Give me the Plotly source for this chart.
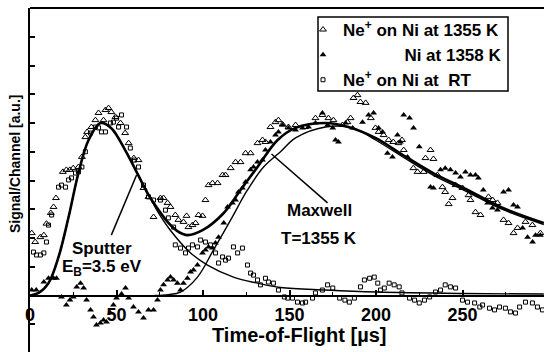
import plotly.graph_objects as go

# ---------------- data ----------------
# Ne+ on Ni at 1355 K (open triangles)
hot_t = [1, 3, 6, 8, 9.5, 12, 13.6, 15, 19, 21, 23, 25, 28, 30, 32, 33, 35.5, 37.8, 39.6, 42.5,
         43.6, 45.4, 47, 49.4, 52.3, 55, 57, 60, 62.7, 65.6, 68.5, 71.4, 75.4, 77.2, 79.5, 81.2,
         84, 85.8, 88.7, 90.5, 91.6, 93.9, 95.7, 97.4, 99.7, 101.4, 103.2, 105.5, 108.4, 111.3,
         113, 116, 118.8, 121.7, 124.6, 127.5, 131.5, 134.4, 136.1, 139, 141.9, 143.6, 146,
         149.4, 153.5, 159, 165, 169, 172.5, 175.4, 180.6, 183.5, 185.3, 187, 189.3, 191, 194,
         197, 199.7, 201.5, 204.4, 207.3, 210, 213, 215, 216, 221.6, 224, 227.5, 228.6, 231.5,
         233.2, 235.5, 238.4, 240, 242, 244.2, 246, 250, 253.5, 254.6, 257.5, 260.4, 265, 267.4,
         270.2, 273.7, 276.6, 279.5, 281.8, 286.4, 290.4, 295]
hot_y = [2.17, 1.86, 2.03, 2.10, 2.50, 2.87, 3.08, 3.39, 4.30, 4.37, 4.37, 4.43, 4.47, 4.82, 5.51,
         5.69, 5.86, 6.10, 6.35, 6.10, 6.45, 6.52, 6.38, 6.21, 6.00, 5.65, 5.30, 4.78, 4.71, 3.74,
         3.43, 2.73, 3.39, 3.39, 3.22, 3.08, 2.80, 2.63, 2.56, 2.77, 2.38, 2.45, 2.52, 2.80, 2.77,
         3.32, 3.84, 3.91, 3.91, 4.19, 4.19, 4.43, 4.64, 4.64, 4.95, 4.95, 5.30, 5.41, 5.34, 5.86,
         6.03, 6.10, 5.95, 5.86, 5.93, 5.86, 6.17, 6.28, 6.17, 6.10, 5.93, 6.03, 6.17, 6.87, 6.97,
         6.73, 6.70, 6.17, 5.83, 5.69, 5.58, 5.41, 5.34, 5.30, 5.41, 5.06, 4.43, 4.30, 4.30, 4.78,
         5.06, 4.75, 4.19, 3.77, 3.60, 3.18, 3.39, 3.84, 3.74, 3.49, 3.32, 2.90, 2.80, 3.43, 3.32,
         3.22, 2.63, 2.52, 2.17, 2.35, 2.56, 2.45, 2.17]

# Ni at 1358 K (filled triangles)
ni_t = [1, 3.6, 8, 10.7, 13.6, 15.3, 18.2, 21, 23.1, 25, 27, 29.2, 31, 32.7, 35, 36.7, 38.4, 40.7,
        42.5, 44.2, 46.5, 48.2, 50, 52.9, 55.2, 57, 59.8, 62.7, 65.6, 68.5, 71.4, 73.7, 75.4,
        77.2, 79.5, 81.2, 83, 85.2, 87, 88.7, 91, 92.8, 94.5, 96.8, 99.7, 101.4, 103.2, 105.5,
        107.2, 109, 112, 114.2, 117, 118.8, 120.5, 122.8, 124.6, 127.5, 129.2, 131.5, 134.4,
        136.1, 139, 141.9, 143.6, 146, 149.4, 153.5, 157.5, 161, 165, 169, 172, 175, 176.6,
        178.3, 182.4, 186.5, 192.2, 195.7, 198.6, 201.5, 203.8, 206.6, 209.5, 212.4, 214.1, 216,
        218.2, 219.4, 221.7, 225, 231.5, 233.2, 237.3, 240, 243, 246, 248.8, 251.7, 254.6,
        257.5, 259.2, 262, 264.5, 267.3, 270.2, 273.7, 276.6, 279.5, 281.8, 284.7, 287.6, 290.5,
        292.2, 295]
ni_y = [0.19, 0.19, 0.47, 0.60, 0.60, 0.60, -0.05, -0.33, -0.16, -0.05, 0.30, 0.43, 0.26, -0.16,
        -0.50, -0.75, -1.03, -0.96, -0.85, -0.92, -0.61, -0.33, -0.09, 0.05, 0.26, -0.09, -0.40,
        -0.57, -0.78, -0.50, -0.50, -0.16, 0.19, 0.37, 0.54, 0.64, 0.54, 0.43, 0.19, 0.43, 0.60,
        0.82, 0.89, 1.06, 1.48, 1.58, 1.69, 1.65, 1.83, 2.03, 2.52, 3.08, 3.22, 3.32, 3.60, 3.74,
        3.95, 4.37, 4.47, 4.64, 4.71, 5.06, 5.34, 5.58, 5.69, 5.93, 5.83, 5.76, 5.83, 5.86, 6.00,
        6.35, 5.93, 5.83, 5.41, 5.34, 6.00, 5.83, 6.03, 6.28, 6.35, 5.83, 5.69, 4.95, 4.82, 5.58,
        5.34, 6.28, 4.82, 6.17, 5.83, 5.17, 3.77, 3.74, 4.37, 4.43, 4.37, 4.26, 4.12, 4.30, 4.19,
        4.19, 4.09, 3.67, 3.22, 3.04, 2.97, 3.60, 3.67, 3.15, 3.08, 2.35, 2.03, 1.86, 2.10, 2.10]

# Ne+ on Ni at RT (open squares)
rt_t = [2, 3.8, 6, 8, 9.5, 10.7, 12.5, 16.5, 18.2, 20.5, 22.3, 24, 26.3, 28, 30, 32, 35, 37.8,
        39.6, 41.3, 43.6, 46.5, 48.2, 50, 51.2, 52.9, 55.8, 58, 60.4, 62.7, 65.6, 68.5, 71.4,
        75.4, 78.3, 80, 83, 84, 87, 89.9, 91.6, 93.9, 96.8, 98.6, 101.4, 104.3, 107.2, 109,
        111.3, 113, 114.7, 117.6, 120, 122.8, 125.7, 127.5, 129.2, 131.5, 133.2, 136.1, 137.8,
        140.7, 143.6, 147, 149, 151.7, 154.6, 157.5, 159.3, 163.3, 165, 169, 172, 175, 179, 182,
        184.6, 187.5, 191, 193.3, 196.3, 199, 201, 202.6, 204.8, 207.6, 210.5, 213.4, 215,
        219.4, 222.3, 225, 228, 231, 234.4, 237.3, 240, 243, 246, 250, 252.9, 257, 260, 261.6,
        265.6, 268.5, 271.4, 274.8, 277.7, 280.6, 283, 286.4, 290.4, 293.3, 296.2]
rt_y = [1.51, 1.41, 1.41, 1.48, 1.86, 2.45, 2.80, 3.77, 3.84, 3.77, 4.02, 4.09, 4.26, 4.30, 4.47,
        5.00, 5.65, 5.86, 5.83, 5.69, 5.69, 6.00, 6.03, 6.17, 5.86, 6.28, 5.86, 5.13, 4.71, 4.47,
        3.84, 3.43, 3.32, 3.32, 2.97, 2.70, 2.38, 1.76, 1.65, 1.48, 1.65, 1.76, 1.69, 1.93, 1.86,
        1.76, 1.48, 1.13, 1.34, 1.23, 1.30, 1.69, 1.48, 1.65, 1.06, 0.78, 0.71, 0.54, 0.37, 0.60,
        0.47, 0.43, 0.19, -0.05, -0.09, -0.09, -0.23, -0.26, -0.23, -0.09, 0.09, 0.19, 0.37,
        0.26, -0.09, -0.16, -0.23, -0.09, 0.30, 0.54, 0.60, 0.64, 0.43, 0.19, 0.26, 0.43, 0.37,
        0.30, 0.09, -0.09, -0.16, -0.26, -0.16, -0.05, 0.12, 0.19, 0.37, 0.30, 0.26, -0.16,
        -0.23, -0.26, -0.40, -0.33, -0.44, -0.50, -0.40, -0.44, -0.57, -0.61, -0.40, -0.23,
        -0.26, -0.40, -0.50]

# fitted curves
sum_t = [0, 5, 10.7, 16.5, 22.3, 28, 33.8, 40.8, 47, 55, 61, 68.5, 74, 79.5, 85, 91, 100, 112,
         121.7, 131.5, 143, 153.5, 170.8, 184, 199.6, 216, 233, 253, 272, 297]
sum_y = [0, 0.09, 0.43, 1.34, 2.73, 4.26, 5.40, 6.00, 5.82, 5.06, 4.37, 3.50, 3.00, 2.56, 2.25,
         2.10, 2.28, 2.87, 3.67, 4.47, 5.40, 5.83, 6.00, 5.86, 5.48, 4.87, 4.26, 3.67, 3.08, 2.52]

sput_t = [0, 5, 10.7, 16.5, 22.3, 28, 33.8, 40.8, 47, 55, 61, 68.5, 74, 81, 92.8, 102.6, 117.6,
          131.5, 144.8, 171, 200, 250, 297]
sput_y = [0, 0.09, 0.43, 1.34, 2.73, 4.26, 5.40, 6.00, 5.82, 5.06, 4.37, 3.50, 2.90, 2.28, 1.48,
          1.06, 0.64, 0.43, 0.28, 0.19, 0.12, 0.07, 0.05]

maxw_t = [72, 80, 87, 96.8, 106, 116, 125.7, 135, 144.8, 153.5, 170.8, 186.5, 200, 216, 233, 253,
          272, 297]
maxw_y = [0, 0.03, 0.12, 0.64, 1.58, 2.63, 3.67, 4.47, 5.00, 5.48, 5.86, 5.83, 5.40, 4.80, 4.19,
          3.60, 3.02, 2.47]

x_tick_vals = [0, 50, 100, 150, 200, 250]

FONT = "Arial, Liberation Sans, sans-serif"
W, H = 544, 352
ML, MT = 30, 8
PW, PH = W - ML, H - MT


def px_x(p):
    return (p - ML) / PW


def px_y(p):
    return (H - p) / PH


fig = go.Figure()

fig.add_trace(go.Scatter(x=sput_t, y=sput_y, mode="lines", line=dict(color="black", width=1.4, shape="spline"),
                         showlegend=False, hoverinfo="skip"))
fig.add_trace(go.Scatter(x=maxw_t, y=maxw_y, mode="lines", line=dict(color="black", width=1.4, shape="spline"),
                         showlegend=False, hoverinfo="skip"))
fig.add_trace(go.Scatter(x=sum_t, y=sum_y, mode="lines", line=dict(color="black", width=2.6, shape="spline"),
                         showlegend=False, hoverinfo="skip"))

fig.add_trace(go.Scatter(x=hot_t, y=hot_y, mode="markers",
                         name="<b>Ne<sup>+</sup> on Ni at 1355 K</b>",
                         marker=dict(symbol="triangle-up-open", size=6, color="black", line=dict(width=1))))
fig.add_trace(go.Scatter(x=ni_t, y=ni_y, mode="markers",
                         name="<b>" + "\u00a0" * 13 + "Ni at 1358 K</b>",
                         marker=dict(symbol="triangle-up", size=6, color="black")))
fig.add_trace(go.Scatter(x=rt_t, y=rt_y, mode="markers",
                         name="<b>Ne<sup>+</sup> on Ni at\u00a0\u00a0RT</b>",
                         marker=dict(symbol="square-open", size=4, color="black", line=dict(width=1))))

Y0, Y1 = -1.965, 10
pos0 = (0 - Y0) / (Y1 - Y0)

fig.update_layout(
    width=W, height=H,
    margin=dict(l=ML, r=0, t=MT, b=0, autoexpand=False),
    paper_bgcolor="white", plot_bgcolor="white",
    font=dict(family=FONT, color="black", size=17),
    xaxis=dict(range=[0, 297.1], anchor="free", position=pos0, showline=True, linewidth=2,
               linecolor="black", showgrid=False, zeroline=False, ticks="inside", ticklen=5,
               tickwidth=1.5, tickcolor="black", tickvals=x_tick_vals,
               ticktext=["<b>%d</b>" % v for v in x_tick_vals],
               tickfont=dict(size=18, family=FONT), automargin=False, ticklabelstandoff=3,
               minor=dict(dtick=25, ticks="inside", ticklen=3, tickcolor="black", tickwidth=1.2)),
    yaxis=dict(range=[Y0, Y1], showline=True, linewidth=2, linecolor="black", showgrid=False,
               zeroline=False, ticks="inside", ticklen=5, tickwidth=1.5, tickcolor="black",
               dtick=1, tick0=0, showticklabels=False, automargin=False),
    legend=dict(x=px_x(303), y=px_y(12), xanchor="left", yanchor="top",
                borderwidth=0, bgcolor="rgba(0,0,0,0)",
                font=dict(size=17, family=FONT), tracegroupgap=0, itemsizing="trace"),
    showlegend=True,
)

# top frame line
fig.add_shape(type="line", xref="paper", yref="paper", x0=0, x1=1, y0=1, y1=1,
              line=dict(color="black", width=2))
# legend frame
fig.add_shape(type="rect", xref="paper", yref="paper", x0=px_x(318), x1=px_x(508),
              y0=px_y(91), y1=px_y(17), line=dict(color="black", width=1.5))

# pointer lines
fig.add_shape(type="line", xref="x", yref="y", x0=47.0, y0=2.10, x1=61.6, y1=4.19,
              line=dict(color="black", width=1.5))
fig.add_shape(type="line", xref="x", yref="y", x0=172, y0=3.22, x1=139.6, y1=4.92,
              line=dict(color="black", width=1.5))

ann = [
    (41.9, 1.65, "<b>Sputter</b>"),
    (41.9, 0.96, "<b>E<sub>B</sub>=3.5 eV</b>"),
    (167.3, 2.94, "<b>Maxwell</b>"),
    (167.3, 1.97, "<b>T=1355 K</b>"),
]
for ax_, ay_, txt in ann:
    fig.add_annotation(x=ax_, y=ay_, xref="x", yref="y", text=txt, showarrow=False,
                       font=dict(size=17, family=FONT), xanchor="center", yanchor="middle")

# axis titles
fig.add_annotation(x=px_x(299), y=px_y(335), xref="paper", yref="paper",
                   text="<b>Time-of-Flight [\u00b5s]</b>", showarrow=False,
                   font=dict(size=20, family=FONT), xanchor="center", yanchor="middle")
fig.add_annotation(x=px_x(15), y=px_y(164), xref="paper", yref="paper",
                   text="<b>Signal/Channel [a.u.]</b>",
                   showarrow=False, textangle=-90, font=dict(size=14, family=FONT),
                   xanchor="center", yanchor="middle")

fig.write_html("out.html", config={"displayModeBar": False},
               post_script="document.body.style.margin='0px';document.body.style.padding='0px';")
